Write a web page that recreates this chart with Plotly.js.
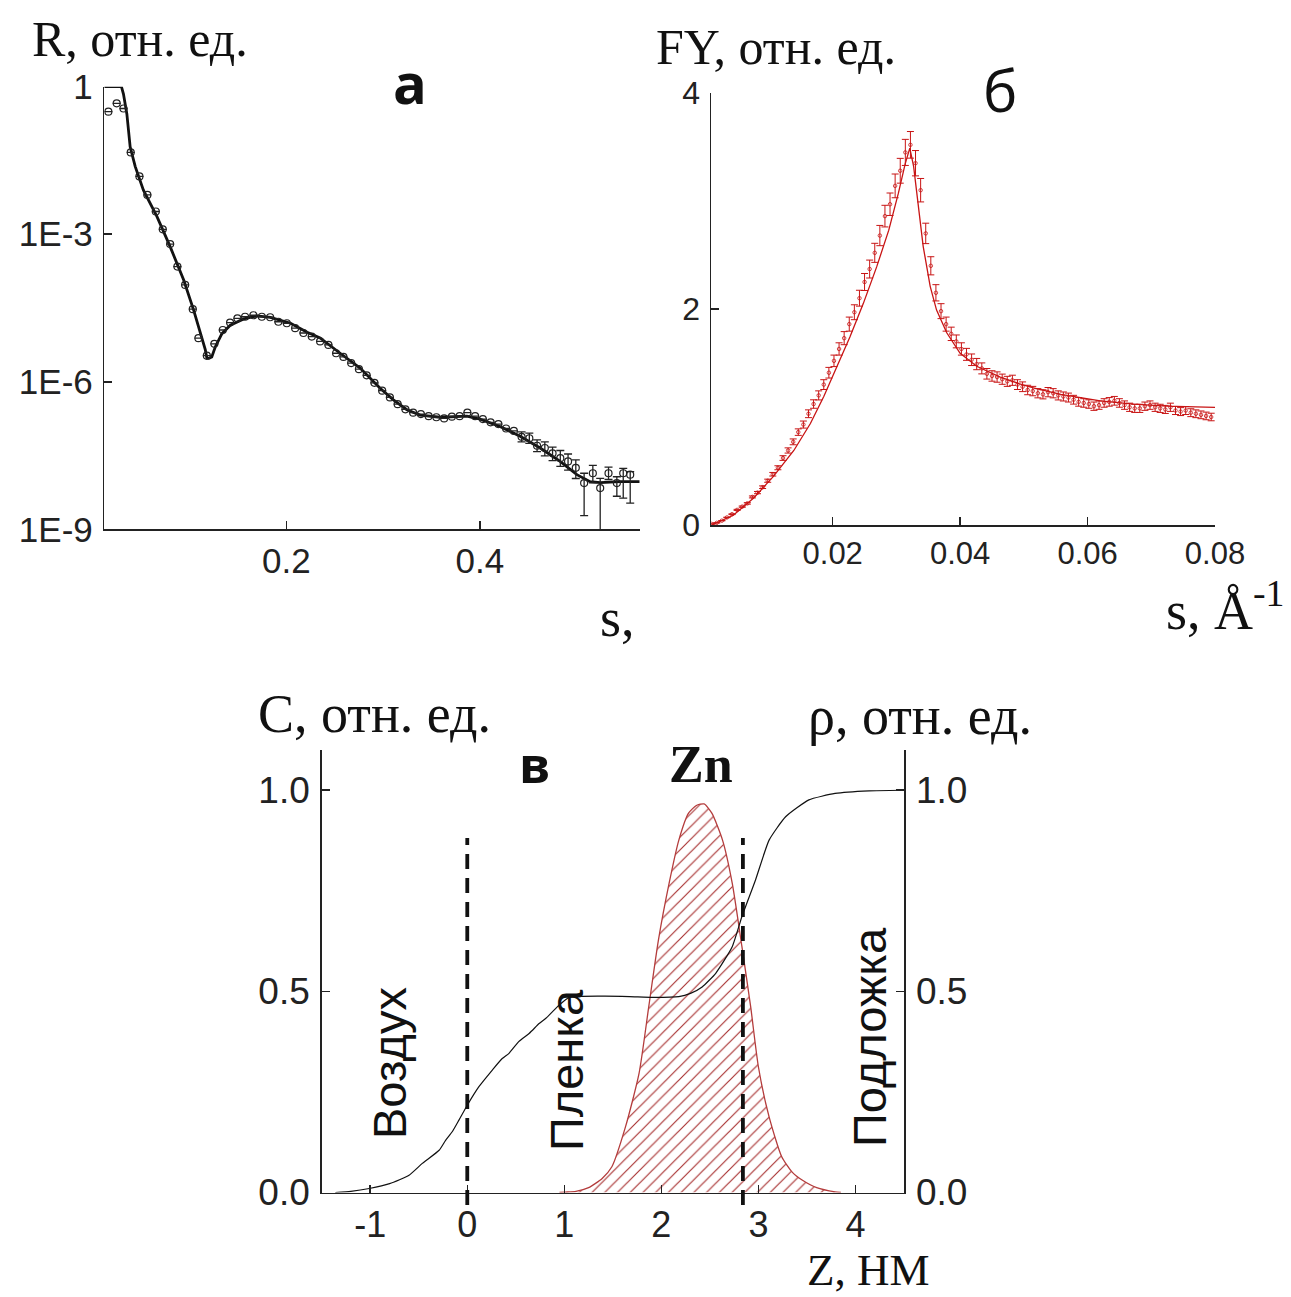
<!DOCTYPE html>
<html>
<head>
<meta charset="utf-8">
<script src="https://cdn.plot.ly/plotly-3.0.1.min.js"></script>
<style>html,body{margin:0;padding:0;background:#fff;}#chart{width:1291px;height:1297px;}</style>
</head>
<body>
<div id="chart"></div>
<script>
// ---------- Panel а: reflectivity R(s), log scale ----------
const fitS_a = [0.012,0.0297,0.0318,0.0353,0.0387,0.0439,0.0524,0.0663,0.08,0.094,0.1042,0.1111,0.1163,0.118,0.120,0.123,0.1266,0.1335,0.1421,0.156,0.1697,0.1835,0.2044,0.2215,0.2349,0.2556,0.2762,0.2969,0.3106,0.3245,0.3382,0.3589,0.3761,0.3865,0.40,0.4207,0.4415,0.4622,0.4828,0.5001,0.5138,0.5242,0.5448,0.565];
const fitR_a = [1,1,0.71,0.28,0.060,0.024,7.9e-3,2.3e-3,5.6e-4,1.17e-4,2.9e-5,9.8e-6,4.5e-6,3.0e-6,3.0e-6,3.2e-6,5.1e-6,9.5e-6,1.41e-5,1.9e-5,2.19e-5,2.04e-5,1.55e-5,1.02e-5,7.8e-6,3.8e-6,1.9e-6,7.4e-7,4.3e-7,2.7e-7,2.1e-7,1.9e-7,1.95e-7,2.0e-7,1.74e-7,1.23e-7,7.8e-8,4.5e-8,2.4e-8,1.29e-8,9.3e-9,8.9e-9,9.3e-9,9.3e-9];

const dataS_a = [0.0162,0.0248,0.0318,0.0393,0.0483,0.0565,0.0652,0.0724,0.0800,0.0875,0.0955,0.1034,0.1092,0.1179,0.1257,0.1344,0.1419,0.1495,0.1574,0.1660,0.1747,0.1833,0.1918,0.2005,0.2091,0.2177,0.2263,0.2349,0.2435,0.2514,0.259,0.267,0.275,0.283,0.291,0.299,0.307,0.315,0.323,0.331,0.339,0.347,0.355,0.363,0.371,0.379,0.387,0.395,0.403,0.411,0.419,0.427,0.435,0.443,0.451,0.459,0.467,0.475,0.483,0.491,0.499,0.5076,0.5166,0.5242,0.5328,0.5414,0.548,0.5552];
const dataR_a = [0.31,0.46,0.36,0.046,0.015,6.3e-3,2.9e-3,1.26e-3,6.3e-4,2.2e-4,9.3e-5,3.0e-5,7.7e-6,3.4e-6,5.9e-6,1.13e-5,1.6e-5,1.95e-5,2.1e-5,2.25e-5,2.1e-5,2.05e-5,1.66e-5,1.55e-5,1.23e-5,9.8e-6,8.3e-6,6.6e-6,5.6e-6,3.8e-6,3.2e-6,2.4e-6,1.8e-6,1.35e-6,9.5e-7,6.6e-7,4.8e-7,3.5e-7,2.75e-7,2.35e-7,2.2e-7,2.0e-7,1.9e-7,1.8e-7,1.95e-7,2.0e-7,2.35e-7,2.0e-7,1.74e-7,1.5e-7,1.38e-7,1.12e-7,1.0e-7,7.6e-8,7.1e-8,5.0e-8,4.5e-8,3.5e-8,2.8e-8,2.4e-8,1.78e-8,8.7e-9,1.38e-8,6.9e-9,1.38e-8,8.7e-9,1.38e-8,1.29e-8];
const errUp_a = [null,null,null,null,null,null,null,null,null,null,null,null,null,null,null,null,null,null,null,null,null,null,null,null,null,null,null,null,null,null,null,null,null,null,null,null,null,null,null,null,null,null,null,null,null,null,null,null,null,null,null,null,null,2.0e-8,1.9e-8,1.6e-8,1.5e-8,1.2e-8,1.2e-8,1.0e-8,0.8e-8,5.1e-9,6.1e-9,4.0e-9,4.5e-9,3.0e-9,3.5e-9,2.0e-9];
const errDn_a = [null,null,null,null,null,null,null,null,null,null,null,null,null,null,null,null,null,null,null,null,null,null,null,null,null,null,null,null,null,null,null,null,null,null,null,null,null,null,null,null,null,null,null,null,null,null,null,null,null,null,null,null,null,1.6e-8,1.5e-8,1.2e-8,1.4e-8,1.0e-8,0.9e-8,0.8e-8,0.7e-8,6.8e-9,5.0e-9,6.85e-9,3.5e-9,4.0e-9,9.5e-9,9.5e-9];
const yTickVals_a = [1, 1e-3, 1e-6, 1e-9];
const yTickText_a = ['1', '1E-3', '1E-6', '1E-9'];
const xTickVals_a = [0.2, 0.4];
const xTickText_a = ['0.2', '0.4'];

// ---------- Panel б: fluorescence yield FY(s) ----------
const fitS_b = [0.001,0.0044,0.0076,0.0107,0.0139,0.0165,0.0186,0.0207,0.0227,0.0248,0.0269,0.0288,0.0303,0.0314,0.0321,0.0327,0.0335,0.0342,0.0353,0.0363,0.0379,0.0400,0.0426,0.0463,0.0492,0.0515,0.0558,0.0620,0.0672,0.0724,0.0800];
const fitFY_b = [0,0.09,0.25,0.45,0.69,0.94,1.19,1.47,1.74,2.05,2.39,2.73,3.07,3.35,3.49,3.32,2.95,2.58,2.21,1.99,1.78,1.59,1.47,1.37,1.31,1.27,1.21,1.15,1.12,1.10,1.09];
const dataS_b = [0.0010,0.0018,0.0026,0.0034,0.0042,0.0050,0.0058,0.0066,0.0074,0.0082,0.0090,0.0098,0.0106,0.0114,0.0122,0.0130,0.0138,0.0146,0.0154,0.0162,0.0170,0.0178,0.0186,0.0194,0.0202,0.0210,0.0218,0.0226,0.0234,0.0242,0.0250,0.0258,0.0266,0.0274,0.0282,0.0290,0.0298,0.0306,0.0314,0.0322,0.0330,0.0338,0.0346,0.0354,0.0362,0.0370,0.0378,0.0386,0.0394,0.0402,0.0410,0.0418,0.0426,0.0434,0.0442,0.0450,0.0458,0.0466,0.0474,0.0482,0.0490,0.0498,0.0506,0.0514,0.0522,0.0530,0.0538,0.0546,0.0554,0.0562,0.0570,0.0578,0.0586,0.0594,0.0602,0.0610,0.0618,0.0626,0.0634,0.0642,0.0650,0.0658,0.0666,0.0674,0.0682,0.0690,0.0698,0.0706,0.0714,0.0722,0.0730,0.0738,0.0746,0.0754,0.0762,0.0770,0.0778,0.0786,0.0794];
const dataFY_b = [0.01,0.02,0.04,0.07,0.10,0.14,0.17,0.20,0.26,0.30,0.35,0.41,0.47,0.53,0.62,0.69,0.77,0.86,0.93,1.03,1.12,1.20,1.30,1.41,1.52,1.63,1.73,1.86,1.97,2.10,2.25,2.37,2.52,2.68,2.86,2.97,3.14,3.28,3.45,3.52,3.35,3.10,2.70,2.40,2.15,1.98,1.86,1.77,1.70,1.63,1.58,1.53,1.49,1.45,1.40,1.38,1.37,1.35,1.33,1.34,1.30,1.28,1.25,1.24,1.22,1.21,1.23,1.22,1.20,1.19,1.18,1.16,1.14,1.13,1.12,1.10,1.11,1.13,1.14,1.15,1.13,1.11,1.09,1.08,1.08,1.10,1.11,1.09,1.08,1.07,1.09,1.06,1.05,1.06,1.04,1.03,1.02,1.01,1.00];
const xTickVals_b = [0.02, 0.04, 0.06, 0.08];
const xTickText_b = ['0.02', '0.04', '0.06', '0.08'];
const yTickVals_b = [0, 2, 4];

// ---------- Panel в: profiles vs depth z ----------
const zRho = [-1.36,-1.2,-1.01,-0.8,-0.60,-0.46,-0.29,-0.22,-0.155,-0.086,0,0.12,0.26,0.36,0.43,0.53,0.64,0.74,0.81,0.93,1.05,1.39,1.67,1.91,2.18,2.30,2.42,2.56,2.73,2.83,2.97,3.11,3.28,3.52,3.79,4.14,4.48];
const rho = [0.0,0.003,0.01,0.022,0.043,0.073,0.105,0.131,0.151,0.18,0.217,0.263,0.305,0.333,0.346,0.375,0.396,0.42,0.433,0.462,0.485,0.488,0.487,0.485,0.487,0.495,0.511,0.545,0.611,0.686,0.777,0.876,0.934,0.976,0.992,0.9985,1.0];
const zZn = [0.95,1.01,1.12,1.25,1.39,1.49,1.63,1.77,1.87,1.97,2.08,2.18,2.28,2.36,2.44,2.52,2.63,2.73,2.83,2.92,3.00,3.11,3.24,3.35,3.45,3.60,3.79,3.85];
const cZn = [0,0.001,0.003,0.012,0.035,0.064,0.163,0.296,0.462,0.628,0.769,0.876,0.943,0.962,0.966,0.943,0.876,0.769,0.611,0.462,0.312,0.188,0.089,0.05,0.031,0.012,0.0015,0];
const interfaces = [0, 2.84];
const xTickVals_c = [-1, 0, 1, 2, 3, 4];
const xTickText_c = ['-1', '0', '1', '2', '3', '4'];
const yTickVals_c = [0, 0.5, 1.0];
const yTickText_c = ['0.0', '0.5', '1.0'];

// ---------- geometry helpers (pixel -> paper) ----------
const W = 1291, H = 1297;
const fx = p => p / W;
const fy = p => 1 - p / H;

const axisBase = {
  showline: true, linecolor: '#222', linewidth: 1.5,
  ticks: 'inside', ticklen: 8, tickwidth: 1.5, tickcolor: '#222',
  showgrid: false, zeroline: false, mirror: false,
  tickfont: { family: 'Liberation Sans, Arial, sans-serif', size: 32, color: '#222' }
};
function ax(extra, fontSize) {
  const o = Object.assign({}, axisBase, extra);
  o.tickfont = Object.assign({}, axisBase.tickfont, { size: fontSize });
  return o;
}

const traces = [
  // panel a
  { x: fitS_a, y: fitR_a, xaxis: 'x', yaxis: 'y', mode: 'lines',
    line: { color: '#111', width: 2.8 }, hoverinfo: 'skip' },
  { x: dataS_a, y: dataR_a, xaxis: 'x', yaxis: 'y', mode: 'markers',
    marker: { symbol: 'circle-open', size: 7, color: '#222', line: { width: 1.2 } },
    error_y: { type: 'data', symmetric: false, array: errUp_a, arrayminus: errDn_a,
               color: '#222', thickness: 1.3, width: 4 } },
  // panel b
  { x: dataS_b, y: dataFY_b, xaxis: 'x2', yaxis: 'y2', mode: 'markers',
    marker: { symbol: 'circle-open', size: 3.5, color: '#c81414', line: { width: 0.8 } },
    error_y: { type: 'percent', value: 3.5, color: '#c81414', thickness: 1, width: 3.5 } },
  { x: fitS_b, y: fitFY_b, xaxis: 'x2', yaxis: 'y2', mode: 'lines',
    line: { color: '#c81414', width: 1.3 } },
  // panel c
  { x: zZn, y: cZn, xaxis: 'x3', yaxis: 'y3', mode: 'lines', fill: 'tozeroy',
    line: { color: '#b43c3c', width: 1.3, shape: 'spline', smoothing: 0.6 },
    fillcolor: 'rgba(255,255,255,0)',
    fillpattern: { shape: '/', fgcolor: '#a83232', bgcolor: 'rgba(255,255,255,0)', size: 9, solidity: 0.13 } },
  { x: zRho, y: rho, xaxis: 'x3', yaxis: 'y4', mode: 'lines',
    line: { color: '#111', width: 1.2, shape: 'spline', smoothing: 0.5 } }
];

const serif = 'Liberation Serif, Times New Roman, serif';
const sans = 'Liberation Sans, Arial, sans-serif';
const ann = (text, x, y, font, extra) => Object.assign({
  text: text, x: fx(x), y: fy(y), xref: 'paper', yref: 'paper',
  showarrow: false, xanchor: 'center', yanchor: 'middle', font: font
}, extra || {});

const annotations = [
  ann('R, отн. ед.', 30, 39, { family: serif, size: 50, color: '#111' }, { xanchor: 'left' }),
  ann('а', 410, 82, { family: 'Open Sans, sans-serif', size: 56, color: '#111', weight: 700 }),
  ann('s,', 598, 618, { family: serif, size: 54, color: '#111' }, { xanchor: 'left' }),
  ann('FY, отн. ед.', 654, 47, { family: serif, size: 50, color: '#111' }, { xanchor: 'left' }),
  ann('б', 1000, 90, { family: 'Open Sans, sans-serif', size: 58, color: '#111', weight: 500 }),
  ann('s, Å<sup>-1</sup>', 1164, 606, { family: serif, size: 54, color: '#111' }, { xanchor: 'left' }),
  ann('C, отн. ед.', 256, 714, { family: serif, size: 54, color: '#111' }, { xanchor: 'left' }),
  ann('ρ, отн. ед.', 806, 716, { family: serif, size: 54, color: '#111' }, { xanchor: 'left' }),
  ann('в', 534, 764, { family: 'Open Sans, sans-serif', size: 50, color: '#111', weight: 700 }),
  ann('Zn', 701, 764, { family: serif, size: 52, color: '#111', weight: 700 }),
  ann('Воздух', 389, 1063, { family: sans, size: 47, color: '#111' }, { textangle: -90 }),
  ann('Пленка', 566, 1070, { family: sans, size: 47, color: '#111' }, { textangle: -90 }),
  ann('Подложка', 869, 1037, { family: sans, size: 47, color: '#111' }, { textangle: -90 }),
  ann('Z, НМ', 868, 1270, { family: serif, size: 45, color: '#111' })
];

const shapes = interfaces.map(z => ({
  type: 'line', xref: 'x3', yref: 'paper', x0: z, x1: z, y0: fy(1205), y1: fy(838),
  line: { color: '#111', width: 3.8, dash: '15px,9px' }, layer: 'above'
}));

const layout = {
  width: W, height: H, autosize: false,
  margin: { l: 0, r: 0, t: 0, b: 0 },
  paper_bgcolor: '#fff', plot_bgcolor: 'rgba(0,0,0,0)',
  showlegend: false,
  font: { family: sans, color: '#222' },
  xaxis: ax({ domain: [fx(104.3), fx(639.7)], anchor: 'y', range: [0.012, 0.565],
              tickvals: xTickVals_a, ticktext: xTickText_a, ticklabelstandoff: 0 }, 35),
  yaxis: ax({ domain: [fy(529.3), fy(86.7)], anchor: 'x', type: 'log', range: [-9, 0],
              tickvals: yTickVals_a, ticktext: yTickText_a, ticklabelstandoff: 3 }, 35),
  xaxis2: ax({ domain: [fx(711), fx(1215)], anchor: 'y2', range: [0.0009, 0.08],
               tickvals: xTickVals_b, ticktext: xTickText_b, ticklabelstandoff: 0 }, 31),
  yaxis2: ax({ domain: [fy(525), fy(93)], anchor: 'x2', range: [0, 4],
               tickvals: yTickVals_b, ticklabelstandoff: 3 }, 32),
  xaxis3: ax({ domain: [fx(321.7), fx(904)], anchor: 'y3', range: [-1.5, 4.5],
               tickvals: xTickVals_c, ticktext: xTickText_c, ticklabelstandoff: 0 }, 36),
  yaxis3: ax({ domain: [fy(1192.5), fy(750)], anchor: 'x3', range: [0, 1.1],
               tickvals: yTickVals_c, ticktext: yTickText_c, ticklabelstandoff: 3 }, 37),
  yaxis4: ax({ overlaying: 'y3', anchor: 'x3', side: 'right', range: [0, 1.1],
               tickvals: yTickVals_c, ticktext: yTickText_c, ticklabelstandoff: 3 }, 37),
  annotations: annotations,
  shapes: shapes
};

Plotly.newPlot('chart', traces, layout, { staticPlot: true, displayModeBar: false });
</script>
</body>
</html>
